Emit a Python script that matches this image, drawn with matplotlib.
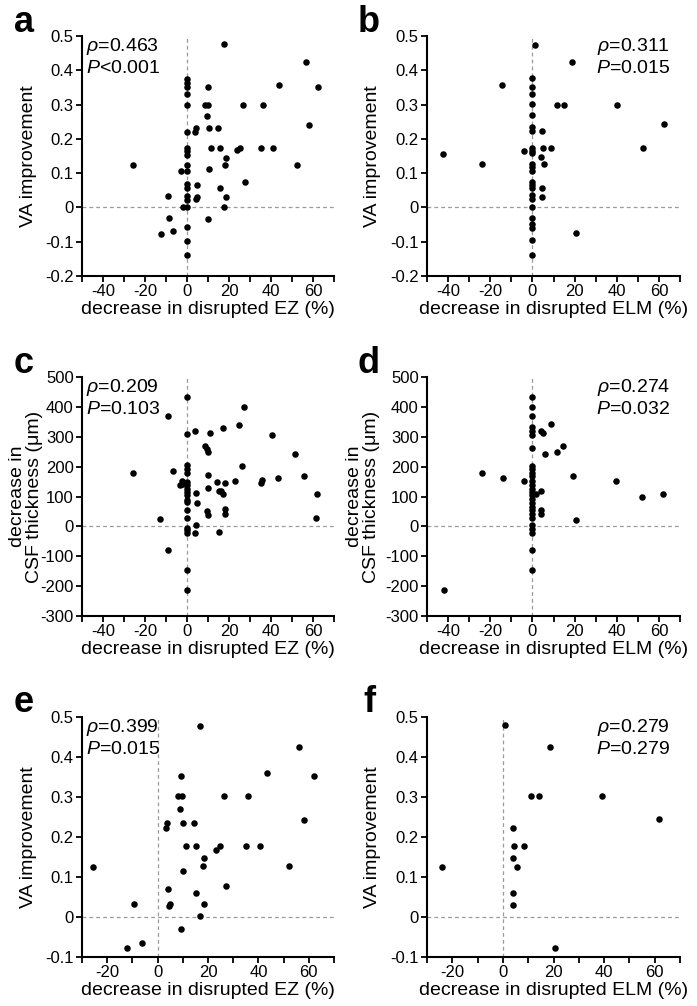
import matplotlib
matplotlib.use('Agg')
import matplotlib.pyplot as plt

plt.rcParams['font.family'] = ['Liberation Sans', 'DejaVu Sans']
plt.rcParams['mathtext.fontset'] = 'custom'
plt.rcParams['mathtext.rm'] = 'Liberation Sans'
plt.rcParams['mathtext.it'] = 'Liberation Sans:italic'

# panel a: EZ vs VA improvement
a_x = [17.4, 56.7, 44.0, 62.2, 9.8, 0, 0, 0, 0, 0, 8.6, 9.8, 26.7, 36.2, 9.5, 58.2, 4.3, 4.0,
       10.6, 14.8, 0, 0, 0, 0, 11.4, 15.5, 23.8, 25.0, 35.2, 40.8, 18.6, -25.9, 0, 0, 17.9, 52.4,
       -2.9, 10.6, 0, 0, 4.6, 15.5, 27.4, -9.2, 0, 0, 4.8, 4.4, 18.6, -1.9, 0, 17.4, -8.7, 9.8,
       -12.6, -6.7, 0, 0, 0]
a_y = [0.477, 0.424, 0.357, 0.350, 0.350, 0.376, 0.362, 0.350, 0.330, 0.300, 0.300, 0.300, 0.300,
       0.300, 0.267, 0.241, 0.233, 0.221, 0.233, 0.233, 0.221, 0.174, 0.165, 0.153, 0.174, 0.174,
       0.167, 0.174, 0.174, 0.174, 0.145, 0.124, 0.124, 0.107, 0.124, 0.124, 0.105, 0.113, 0.068,
       0.058, 0.065, 0.058, 0.075, 0.032, 0.032, 0.022, 0.030, 0.024, 0.030, 0.0, 0.0, 0.0, -0.032,
       -0.034, -0.077, -0.068, -0.058, -0.097, -0.138]

# panel b: ELM vs VA improvement
b_x = [1.3, 19.0, -14.3, 0, 0, 0, 0, 11.6, 14.8, 39.9, 62.4, 0, 0, 0, 4.5, 0, 0, 0, -4.0, 4.8,
       8.9, 52.6, -42.4, -24.1, 4.1, 5.7, 0, 0, 0, 0, 0, 0, 4.5, 0, 0, 4.5, 0, 0, 0, 0, 20.8, 0, 0]
b_y = [0.475, 0.424, 0.357, 0.377, 0.351, 0.330, 0.301, 0.300, 0.300, 0.300, 0.244, 0.270, 0.234,
       0.224, 0.222, 0.174, 0.165, 0.160, 0.166, 0.174, 0.174, 0.174, 0.155, 0.126, 0.147, 0.126,
       0.128, 0.118, 0.106, 0.074, 0.065, 0.058, 0.058, 0.036, 0.026, 0.030, 0.0, -0.032, -0.047,
       -0.061, -0.076, -0.095, -0.139]

# panel c: EZ vs CSF thickness
c_x = [0, -9.2, 27.0, 3.8, 0, 11.0, 17.0, 24.6, 40.3, 8.6, 9.4, 9.8, 51.4, -25.9, -6.8, 0, 0, 0,
       26.2, 55.6, 43.2, 35.7, 35.2, 23.0, 10.2, 14.3, 18.1, -2.4, -3.2, -2.0, 0, 0, 0, 0, 0, 0, 0,
       9.8, 15.0, 16.0, 17.0, 4.1, 61.9, 4.8, 0, 0, 9.4, 9.8, 18.1, 18.1, -12.7, 61.4, 4.1, 0, 0,
       0, 3.8, 15.0, -8.9, 0, 0]
c_y = [433, 368, 400, 319, 308, 312, 330, 341, 306, 269, 260, 249, 243, 180, 187, 204, 193, 180,
       201, 170, 162, 154, 146, 151, 173, 148, 145, 151, 137, 143, 148, 137, 126, 115, 104, 87, 81,
       128, 118, 117, 107, 113, 109, 78, 54, 28, 50, 39, 57, 42, 26, 29, 3, -6, -13,
       -21, -21, -19, -80, -145, -212]

# panel d: ELM vs CSF thickness
d_x = [0, 0, 0, 0, 0, 0, 8.7, 4.3, 4.8, 0, 14.6, 11.7, 5.9, -24.0, -14.0, -4.0, 0, 0, 0, 0, 0,
       0, 0, 0, 0, 0, 0, 0, 0, 0, 0, 19.2, 39.7, 4.3, 1.9, 52.2, 61.9, 4.3, 4.3, 20.6, 0, 0, 0, 0,
       0, -42.0]
d_y = [433, 400, 368, 333, 318, 305, 342, 319, 312, 263, 269, 249, 243, 180, 162, 151, 202, 191,
       180, 169, 151, 137, 126, 115, 104, 91, 79, 65, 54, 42, 28, 169, 151, 117, 107, 98, 107, 56,
       42, 23, 3, -8, -21, -80, -145, -212]

# panel e: EZ vs VA improvement (subgroup)
e_x = [16.9, 56.2, 43.4, 61.9, 9.4, 8.1, 9.7, 26.5, 35.8, 9.0, 3.7, 3.4, 10.1, 14.6, 57.9, 11.1,
       15.2, 23.1, 24.9, 34.9, 40.7, 18.3, 17.9, 10.1, 52.0, -9.5, 4.1, 15.2, 27.0, 4.4, 4.8, 18.3,
       16.9, 9.4, -25.5, -12.0, -6.3]
e_y = [0.478, 0.425, 0.360, 0.353, 0.353, 0.302, 0.302, 0.302, 0.302, 0.270, 0.235, 0.222, 0.235,
       0.235, 0.243, 0.178, 0.178, 0.168, 0.178, 0.178, 0.178, 0.148, 0.127, 0.116, 0.127, 0.033,
       0.070, 0.060, 0.077, 0.028, 0.033, 0.033, 0.002, -0.030, 0.125, -0.077, -0.065]

# panel f: ELM vs VA improvement (subgroup)
f_x = [1.0, 18.7, 11.3, 14.3, 39.3, 61.6, 3.9, 4.2, 8.5, 3.9, 5.6, -24.2, 3.9, 4.1, 20.4]
f_y = [0.479, 0.425, 0.302, 0.302, 0.302, 0.244, 0.222, 0.178, 0.178, 0.147, 0.126, 0.126,
       0.059, 0.031, -0.078]

va_ticks = [-0.2, -0.1, 0, 0.1, 0.2, 0.3, 0.4, 0.5]
va_labels = ['-0.2', '-0.1', '0', '0.1', '0.2', '0.3', '0.4', '0.5']
csf_ticks = [-300, -200, -100, 0, 100, 200, 300, 400, 500]
csf_labels = ['-300', '-200', '-100', '0', '100', '200', '300', '400', '500']

W, H = 697, 1006
fig = plt.figure(figsize=(W / 100, H / 100), dpi=100)


def make_ax(left, right, top, bottom):
    return fig.add_axes([left / W, 1 - bottom / H, (right - left) / W, (bottom - top) / H])


def style(ax, xs, ys, xlim, ylim, yticks, ylabels, xlabel, ylabel, stats, loc, letter, ylab_x=-0.18):
    ax.axhline(0, color='#9a9a9a', lw=0.9, ls=(0, (3, 2.5)), zorder=1)
    ax.axvline(0, color='#9a9a9a', lw=0.9, ls=(0, (3, 2.5)), zorder=1)
    ax.scatter(xs, ys, s=22, color='black', linewidths=0, zorder=3)
    ax.set_xlim(*xlim)
    ax.set_ylim(*ylim)
    xt = list(range(xlim[0], xlim[1] + 1, 10))
    ax.set_xticks(xt)
    ax.set_xticklabels([str(v) if v % 20 == 0 else '' for v in xt])
    ax.set_yticks(yticks)
    ax.set_yticklabels(ylabels)
    for s in ['top', 'right']:
        ax.spines[s].set_visible(False)
    for s in ['left', 'bottom']:
        ax.spines[s].set_linewidth(1.5)
    ax.tick_params(direction='out', length=4, width=1.3, labelsize=12, pad=2)
    ax.set_xlabel(xlabel, fontsize=14, labelpad=1)
    ax.set_ylabel(ylabel, fontsize=14, linespacing=1.0)
    # ylabel anchor is the right edge of the rotated text block
    ax.yaxis.set_label_coords(ylab_x, 0.5)
    if loc == 'left':
        ax.text(0.015, 0.955, stats[0], transform=ax.transAxes, fontsize=14, ha='left', va='center')
        ax.text(0.015, 0.865, stats[1], transform=ax.transAxes, fontsize=14, ha='left', va='center')
    else:
        ax.text(0.96, 0.955, stats[0], transform=ax.transAxes, fontsize=14, ha='right', va='center')
        ax.text(0.96, 0.865, stats[1], transform=ax.transAxes, fontsize=14, ha='right', va='center')
    pos = ax.get_position()
    fig.text(pos.x0 - 58 / W, pos.y1 + 14 / H, letter, fontsize=26, fontweight='bold',
             ha='center', va='center')


ax = make_ax(82, 334, 36, 276)
style(ax, a_x, a_y, (-50, 70), (-0.2, 0.5), va_ticks, va_labels, 'decrease in disrupted EZ (%)',
      'VA improvement', [r'$\rho$=0.463', r'$P$<0.001'], 'left', 'a')

ax = make_ax(427, 680, 36, 276)
style(ax, b_x, b_y, (-50, 70), (-0.2, 0.5), va_ticks, va_labels, 'decrease in disrupted ELM (%)',
      'VA improvement', [r'$\rho$=0.311', r'$P$=0.015'], 'right', 'b')

ax = make_ax(82, 334, 377, 616)
style(ax, c_x, c_y, (-50, 70), (-300, 500), csf_ticks, csf_labels, 'decrease in disrupted EZ (%)',
      'decrease in\nCSF thickness (\u03bcm)', [r'$\rho$=0.209', r'$P$=0.103'], 'left', 'c',
      ylab_x=-0.155)

ax = make_ax(427, 680, 377, 616)
style(ax, d_x, d_y, (-50, 70), (-300, 500), csf_ticks, csf_labels, 'decrease in disrupted ELM (%)',
      'decrease in\nCSF thickness (\u03bcm)', [r'$\rho$=0.274', r'$P$=0.032'], 'right', 'd',
      ylab_x=-0.185)

ax = make_ax(82, 334, 717, 957)
style(ax, e_x, e_y, (-30, 70), (-0.1, 0.5), va_ticks[1:], va_labels[1:], 'decrease in disrupted EZ (%)',
      'VA improvement', [r'$\rho$=0.399', r'$P$=0.015'], 'left', 'e')

ax = make_ax(427, 680, 717, 957)
style(ax, f_x, f_y, (-30, 70), (-0.1, 0.5), va_ticks[1:], va_labels[1:], 'decrease in disrupted ELM (%)',
      'VA improvement', [r'$\rho$=0.279', r'$P$=0.279'], 'right', 'f')

fig.savefig('out.png', dpi=100)
